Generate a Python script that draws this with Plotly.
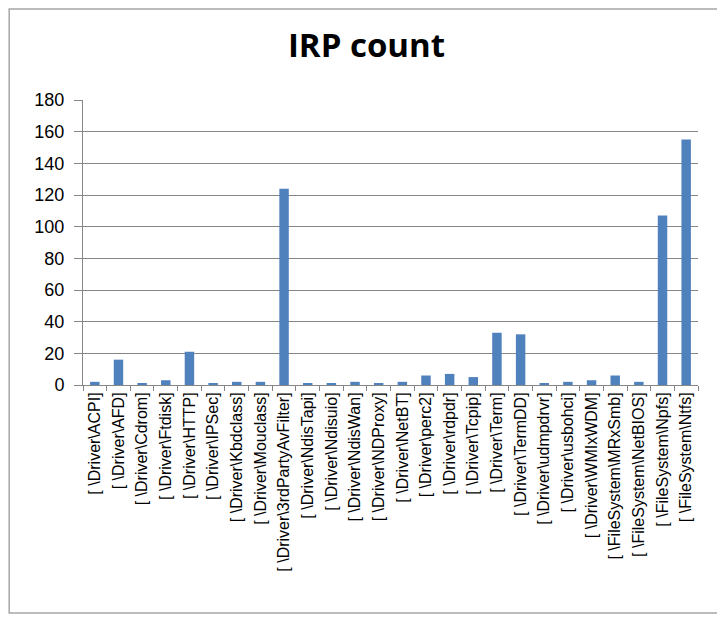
import plotly.graph_objects as go

# IRP counts per driver / filesystem device
drivers = [
    "ACPI", "AFD", "Cdrom", "Ftdisk", "HTTP", "IPSec", "Kbdclass", "Mouclass",
    "3rdPartyAvFilter", "NdisTapi", "Ndisuio", "NdisWan", "NDProxy", "NetBT",
    "perc2", "rdpdr", "Tcpip", "Term", "TermDD", "udmpdrvr", "usbohci", "WMIxWDM",
]
filesystems = ["MRxSmb", "NetBIOS", "Npfs", "Ntfs"]

labels = ["[ \\Driver\\" + d + "]" for d in drivers] + \
         ["[ \\FileSystem\\" + f + "]" for f in filesystems]

irp_count = [2, 16, 1, 3, 21, 1, 2, 2,
             124, 1, 1, 2, 1, 2,
             6, 7, 5, 33, 32, 1, 2, 3,
             6, 2, 107, 155]


def main():
    fig = go.Figure()
    fig.add_trace(go.Bar(
        x=labels,
        y=irp_count,
        marker=dict(color="#4F81BD", line=dict(width=0)),
        hovertemplate="%{x}<br>IRP count: %{y}<extra></extra>",
    ))

    # page puts the figure 8px in from the corner, so size it to fit the window
    fig.update_layout(
        width=717, height=616,
        title=dict(text="<b>IRP count</b>", x=0.5, xanchor="center",
                   y=0.939, yanchor="middle",
                   font=dict(family="Open Sans", size=33, color="black")),
        margin=dict(l=75, r=27, t=92, b=239),
        plot_bgcolor="white", paper_bgcolor="white",
        bargap=0.6,
        showlegend=False,
        font=dict(family="Liberation Sans", color="black"),
    )

    fig.update_yaxes(
        range=[0, 180], dtick=20,
        showgrid=True, gridcolor="#868686", gridwidth=1,
        showline=True, linecolor="#868686", zeroline=False,
        ticks="outside", ticklen=8, tickcolor="#868686",
        ticklabelstandoff=6,
        tickfont=dict(size=18),
    )
    fig.update_xaxes(
        showgrid=False, showline=True, linecolor="#868686",
        ticks="outside", ticklen=5, tickcolor="#868686", tickson="boundaries",
        tickangle=-90, tickfont=dict(size=16),
    )

    # light outer frame around the whole chart
    fig.add_shape(type="rect", xref="paper", yref="paper",
                  x0=-0.12, x1=1.039, y0=-0.80, y1=1.319,
                  line=dict(color="#A6A6A6", width=1.5))

    fig.write_html("out.html")


if __name__ == "__main__":
    main()
